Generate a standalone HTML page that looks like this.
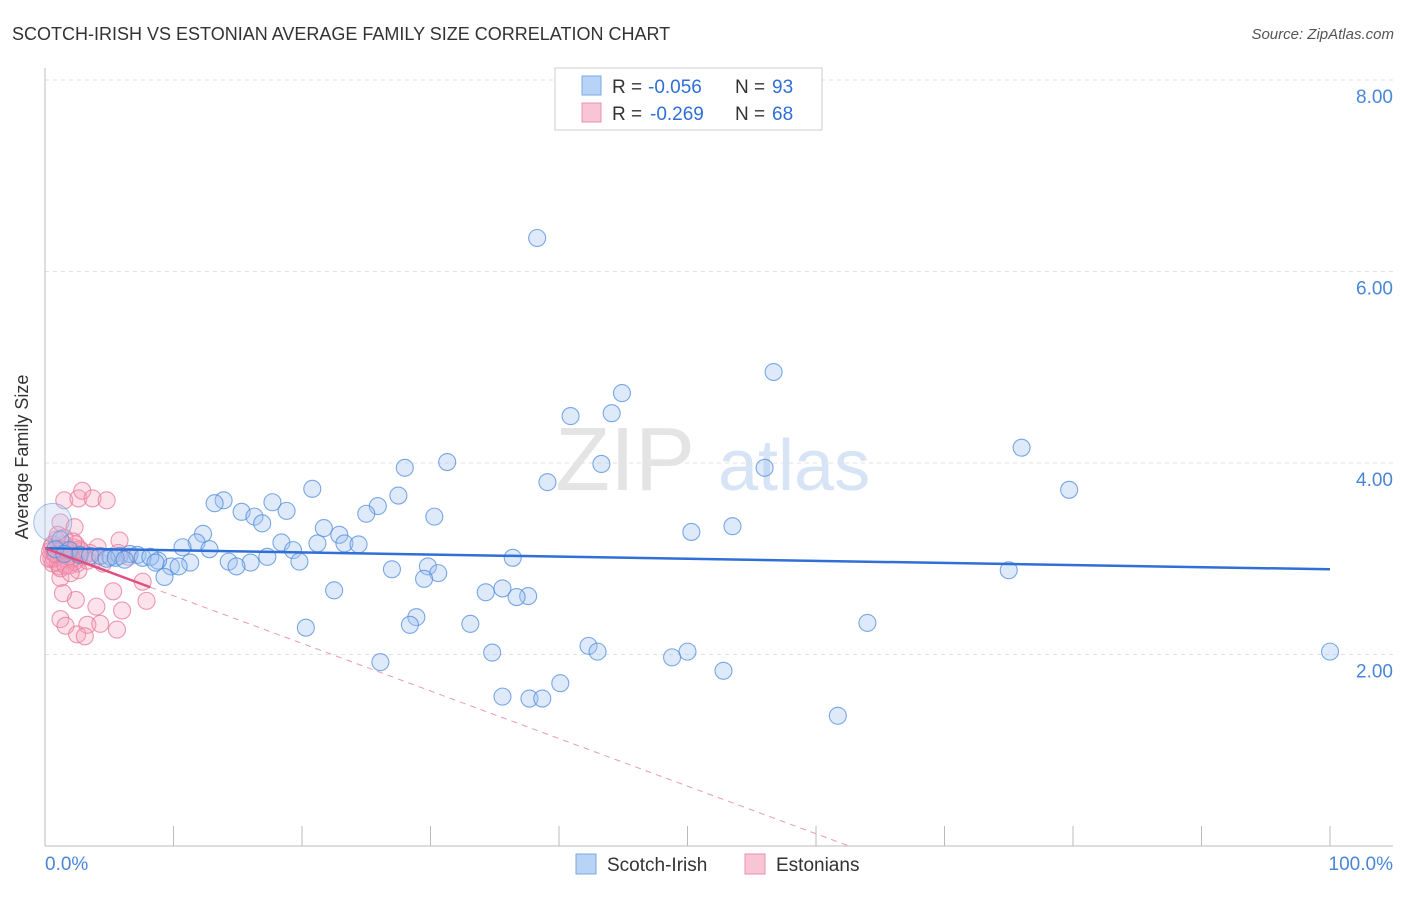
<!DOCTYPE html>
<html><head><meta charset="utf-8"><style>
body{margin:0;background:#fff;font-family:"Liberation Sans",sans-serif}
svg text{font-family:"Liberation Sans",sans-serif}
</style></head><body>
<svg id="c" width="1406" height="892" xmlns="http://www.w3.org/2000/svg">
<text x="12" y="40" font-size="18" fill="#333">SCOTCH-IRISH VS ESTONIAN AVERAGE FAMILY SIZE CORRELATION CHART</text>
<text x="1394" y="39" font-size="15" fill="#555" text-anchor="end" font-style="italic">Source: ZipAtlas.com</text>
<text x="28" y="457" font-size="18" fill="#333" text-anchor="middle" transform="rotate(-90 28 457)">Average Family Size</text>
<text x="555" y="490" font-size="90" fill="#e4e4e4" font-family="Liberation Serif">ZIP</text>
<text x="718" y="490" font-size="72" fill="#d6e4f5">atlas</text>
<g id="grid"></g><g id="axes"></g><g id="pts"></g><g id="lines"></g>
<g>
<rect x="555" y="68" width="267" height="62" fill="#fff" stroke="#ccc"/>
<rect x="582" y="76" width="19" height="19" fill="#b7d3f5" stroke="#7aa9e6"/>
<rect x="582" y="103" width="19" height="19" fill="#f8c5d4" stroke="#ee8fae"/>
<text x="612" y="93" font-size="19" fill="#333">R =</text>
<text x="648" y="93" font-size="19" fill="#2f6fd6">-0.056</text>
<text x="735" y="93" font-size="19" fill="#333">N =</text>
<text x="772" y="93" font-size="19" fill="#2f6fd6">93</text>
<text x="612" y="120" font-size="19" fill="#333">R =</text>
<text x="650" y="120" font-size="19" fill="#2f6fd6">-0.269</text>
<text x="735" y="120" font-size="19" fill="#333">N =</text>
<text x="772" y="120" font-size="19" fill="#2f6fd6">68</text>
</g>
<g>
<rect x="576" y="854" width="20" height="20" fill="#b7d3f5" stroke="#7aa9e6"/>
<text x="607" y="871" font-size="19" fill="#333">Scotch-Irish</text>
<rect x="745" y="854" width="20" height="20" fill="#f8c5d4" stroke="#ee8fae"/>
<text x="776" y="871" font-size="19" fill="#333">Estonians</text>
</g>
<text x="45" y="870" font-size="19" fill="#4a86d8">0.0%</text>
<text x="1393" y="870" font-size="19" fill="#4a86d8" text-anchor="end">100.0%</text>
</svg>
<script>
const yTicks=[2,4,6,8];
const yTickLabels=["2.00","4.00","6.00","8.00"];
const blueX=[38.3,56.7,44.9,40.9,44.1,76.0,31.3,28.0,43.3,56.0,79.7,39.1,20.8,13.9,13.2,17.7,27.5,25.9,18.8,15.3,16.3,16.9,25.0,30.3,53.5,50.3,12.3,21.7,22.9,11.8,18.4,21.2,23.3,24.4,10.7,12.8,19.3,17.3,36.4,19.8,14.3,16.0,14.9,11.3,9.8,10.4,8.8,9.3,27.0,29.8,30.6,29.5,75.0,35.6,34.3,37.6,36.7,22.5,28.9,28.4,33.1,64.0,20.3,42.3,43.0,34.8,50.0,48.8,100,26.1,52.8,40.1,35.6,37.7,38.7,61.7,1.2,1.9,2.7,3.5,4.3,5.1,5.8,6.6,7.2,7.6,8.2,8.6,4.8,5.5,6.2,0.8,1.5];
const blueY=[6.35,4.95,4.73,4.49,4.52,4.16,4.01,3.95,3.99,3.95,3.72,3.80,3.73,3.61,3.58,3.59,3.66,3.55,3.50,3.49,3.44,3.37,3.47,3.44,3.34,3.28,3.26,3.32,3.25,3.17,3.17,3.16,3.16,3.15,3.12,3.10,3.09,3.02,3.01,2.97,2.97,2.96,2.92,2.96,2.92,2.92,2.98,2.81,2.89,2.92,2.85,2.79,2.88,2.69,2.65,2.61,2.60,2.67,2.39,2.31,2.32,2.33,2.28,2.09,2.03,2.02,2.03,1.97,2.03,1.92,1.83,1.70,1.56,1.54,1.54,1.36,3.2,3.09,3.04,3.03,3.03,3.02,3.03,3.05,3.04,3.01,3.02,2.96,3.0,3.01,2.99,3.1,3.05];
const pinkX=[1.5,2.6,2.9,3.7,4.8,1.2,2.3,5.8,4.1,5.7,2.6,1.2,2.4,1.4,5.3,7.6,7.9,4.0,6.0,1.2,1.6,3.3,4.3,5.6,2.5,3.1,1.6,2.0,0.8,0.5,1.0,1.5,2.0,2.5,3.0,0.6,1.1,1.7,2.2,2.8,3.3,0.4,0.9,1.4,1.9,2.4,0.7,1.3,1.8,2.3,3.5,0.5,1.0,1.5,2.1,2.7,0.3,0.8,1.2,1.7,2.2,0.6,1.0,1.6,3.9,4.5,6.5,2.0];
const pinkY=[3.61,3.63,3.71,3.63,3.61,3.38,3.33,3.19,3.12,3.06,2.88,2.80,2.57,2.64,2.66,2.76,2.56,2.50,2.46,2.37,2.30,2.31,2.32,2.26,2.21,2.19,2.99,3.10,3.05,3.0,3.1,3.15,3.05,2.95,3.02,2.95,2.92,3.0,3.12,3.08,2.98,3.08,3.2,3.05,2.93,3.15,3.0,3.1,3.02,2.97,3.06,3.12,2.96,3.22,3.0,3.1,3.0,3.05,2.9,3.08,3.18,3.15,3.25,2.93,3.0,2.95,3.02,2.85];
const blueFit=[3.11,2.89];
const pinkFit=[3.11,-0.0497];
const NS="http://www.w3.org/2000/svg";
const X0=45,X1=1330,Y0=846,YS=95.75;
const sx=v=>X0+(X1-X0)*v/100, sy=v=>Y0-v*YS;
function mk(tag,attrs,parent){const e=document.createElementNS(NS,tag);for(const k in attrs)e.setAttribute(k,attrs[k]);document.getElementById(parent).appendChild(e);return e;}
yTicks.forEach((t,i)=>{
 const l=mk('line',{x1:X0,x2:1393,y1:sy(t),y2:sy(t),stroke:'#e2e2e2','stroke-dasharray':'4,4'},'grid');
 
 
 const tx=mk('text',{x:1393,y:sy(t)+23,'font-size':19,fill:'#4a86d8','text-anchor':'end'},'grid');
 tx.textContent=yTickLabels[i];
 
 
});
const ax=mk('line',{x1:X0,x2:X0,y1:68,y2:Y0,stroke:'#bbb'},'axes');


const bx=mk('line',{x1:X0,x2:1393,y1:Y0,y2:Y0,stroke:'#bbb'},'axes');


for(let i=0;i<=10;i++){const t=mk('line',{x1:sx(i*10),x2:sx(i*10),y1:826,y2:Y0,stroke:'#bbb'},'axes');
 
 }
pinkX.forEach((v,i)=>{const c=mk('circle',{cx:sx(v),cy:sy(pinkY[i]),r:8.5,fill:'rgba(245,160,185,0.3)',stroke:'rgba(232,120,155,0.75)','stroke-width':1.1},'pts');
 
 });
blueX.forEach((v,i)=>{const c=mk('circle',{cx:sx(v),cy:sy(blueY[i]),r:8.5,fill:'rgba(160,195,240,0.35)',stroke:'rgba(80,140,220,0.75)','stroke-width':1.1},'pts');
 
 });
const big=mk('circle',{cx:sx(0.6),cy:sy(3.38),r:19,fill:'rgba(170,200,240,0.3)',stroke:'rgba(80,140,220,0.5)'},'pts');


const bl=mk('line',{x1:sx(0),y1:sy(blueFit[0]),x2:sx(100),y2:sy(blueFit[1]),stroke:'#2f6fd6','stroke-width':2.5},'lines');


const xe=8.2,xz=-pinkFit[0]/pinkFit[1];
const pl=mk('line',{x1:sx(0),y1:sy(pinkFit[0]),x2:sx(xe),y2:sy(pinkFit[0]+pinkFit[1]*xe),stroke:'#e0507e','stroke-width':2.5},'lines');


const pd=mk('line',{x1:sx(xe),y1:sy(pinkFit[0]+pinkFit[1]*xe),x2:sx(xz),y2:sy(0),stroke:'#ec9ab4','stroke-width':1,'stroke-dasharray':'6,5'},'lines');


</script>
</body></html>
